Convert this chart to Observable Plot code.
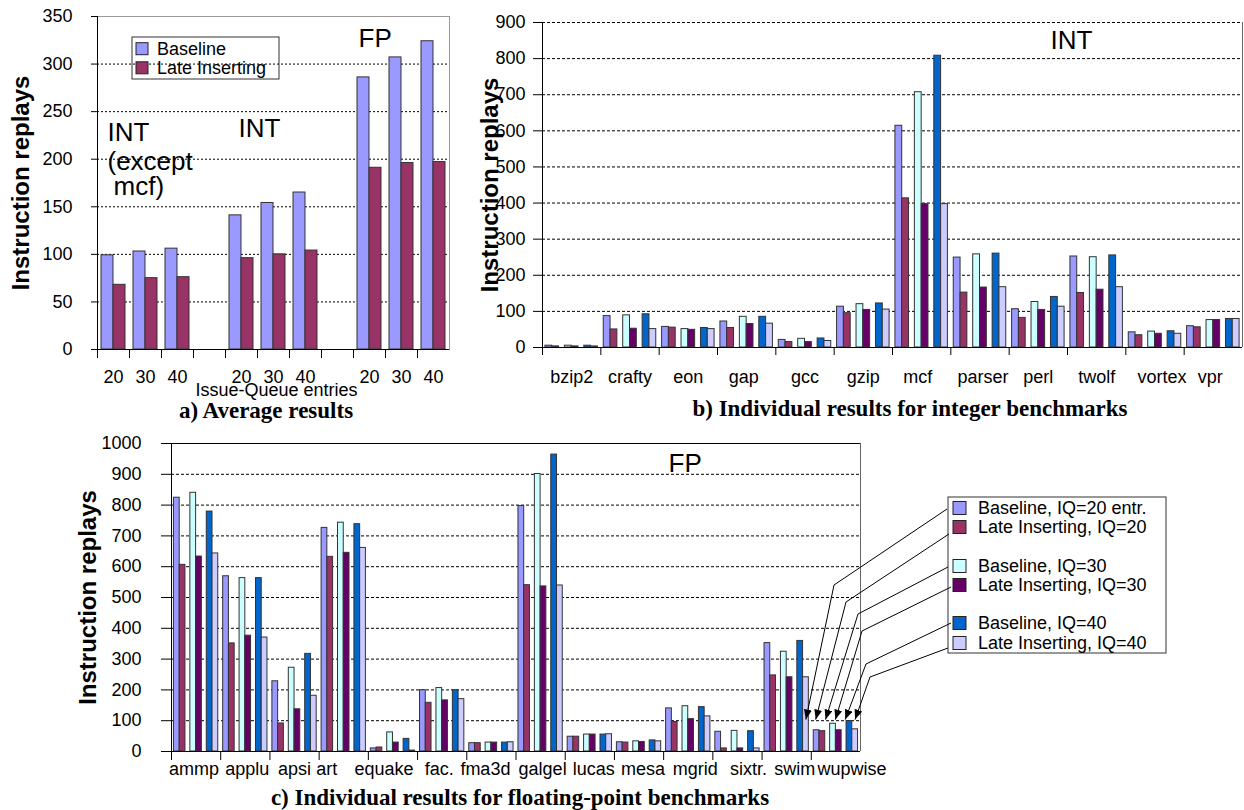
<!DOCTYPE html>
<html><head><meta charset="utf-8">
<script src="https://cdn.jsdelivr.net/npm/d3@7"></script>
<script src="https://cdn.jsdelivr.net/npm/@observablehq/plot@0.6"></script>
<style>
body{margin:0;background:#fff;}
#page{position:relative;width:1244px;height:810px;overflow:hidden;background:#fff;font-family:"Liberation Sans",Arial,sans-serif;}
.panel{position:absolute;}
.panel svg{overflow:visible;}
.cap{position:absolute;font-family:"Liberation Serif","Times New Roman",serif;font-weight:bold;font-size:23px;white-space:nowrap;transform:translate(-50%,-50%);line-height:1;}
</style></head>
<body><div id="page">
<div class="panel" id="pa" style="left:0;top:0"></div>
<div class="panel" id="pb" style="left:480px;top:0"></div>
<div class="panel" id="pc" style="left:0;top:425px"></div>
<div class="cap" style="left:266px;top:410px">a) Average results</div>
<div class="cap" style="left:910px;top:408px">b) Individual results for integer benchmarks</div>
<div class="cap" style="left:520px;top:797px">c) Individual results for floating-point benchmarks</div>
</div>
<script>
// ---------- data ----------
const seriesNames = ["Baseline, IQ=20 entr.","Late Inserting, IQ=20","Baseline, IQ=30","Late Inserting, IQ=30","Baseline, IQ=40","Late Inserting, IQ=40"];
const seriesColors = ["#9999FF","#993366","#CCFFFF","#660066","#0066CC","#CCCCFF"];

const avgSeries = ["Baseline","Late Inserting"];
const avgGroups = ["INT (except mcf)","INT","FP"];
const avgEntries = ["20","30","40"];
const avgBaseline = [99,103,106, 141,154,165, 286,307,324];
const avgLate = [68,75,76, 96,100,104, 191,196,197];
const yTicksA = [0,50,100,150,200,250,300,350];

const intBench = ["bzip2","crafty","eon","gap","gcc","gzip","mcf","parser","perl","twolf","vortex","vpr"];
const intBase20 = [5,87,57,72,21,113,614,249,106,252,42,59];
const intLate20 = [3,50,55,54,15,95,413,152,82,151,34,56];
const intBase30 = [5,89,51,85,24,120,707,258,126,250,44,76];
const intLate30 = [3,52,49,65,15,104,397,166,104,160,38,76];
const intBase40 = [5,92,54,85,25,122,808,260,140,255,45,79];
const intLate40 = [3,51,51,66,18,105,397,167,113,167,38,79];
const yTicksB = [0,100,200,300,400,500,600,700,800,900];

const fpBench = ["ammp","applu","apsi","art","equake","fac.","fma3d","galgel","lucas","mesa","mgrid","sixtr.","swim","wupwise"];
const fpBase20 = [824,569,228,726,10,199,27,797,48,30,140,64,352,69];
const fpLate20 = [606,351,91,632,13,158,27,540,48,29,96,10,247,66];
const fpBase30 = [840,563,272,743,62,206,29,901,55,33,147,67,324,90];
const fpLate30 = [633,376,137,645,29,166,29,536,55,31,105,10,241,69];
const fpBase40 = [779,563,317,738,41,199,29,964,55,36,144,66,359,99];
const fpLate40 = [643,370,181,661,3,170,30,539,56,33,114,10,241,72];
const yTicksC = [0,100,200,300,400,500,600,700,800,900,1000];

// ---------- helpers ----------
const FONT = '"Liberation Sans", Arial, sans-serif';
const baseStyle = {fontFamily: FONT, fontSize: "18px", color: "#000", background: "transparent", overflow: "visible"};
const PAD = 0.05, BW = (1/3 - 2*PAD)/2;
const bx1 = d => d.i + Math.floor(d.s/2)/3 + PAD + (d.s%2)*BW;
const bx2 = d => bx1(d) + BW;
const intFmt = v => String(v);
function rowsFor(bench, arrays){
  const rows = [];
  bench.forEach((b,i) => arrays.forEach((arr,s) => rows.push({bench:b, i, s, series: seriesNames[s], value: arr[i]})));
  return rows;
}
function label(t, opts){ return Plot.text([t], {text: d => d, ...opts}); }
function drawLegend(svg, box, items){
  const g = d3.select(svg).append("g").attr("font-family", FONT).attr("font-size", box.fs).attr("text-anchor", "start");
  g.append("rect").attr("x", box.x).attr("y", box.y).attr("width", box.w).attr("height", box.h)
    .attr("fill", box.fill || "none").attr("stroke", "#333").attr("stroke-width", 1);
  items.forEach(it => {
    g.append("rect").attr("x", box.sx).attr("y", it.cy - box.ss/2).attr("width", box.ss).attr("height", box.ss)
      .attr("fill", it.color).attr("stroke", "#222").attr("stroke-width", 1);
    g.append("text").attr("x", box.tx).attr("y", it.cy).attr("dy", "0.36em").attr("text-anchor", "start")
      .attr("fill", "#000").text(it.label);
  });
}
// small horizontal nudges of category labels (typographic spacing as in the original)
function nudgeLabels(svg, nudge){
  d3.select(svg).selectAll('g[aria-label="x-axis tick label"] text').each(function(){
    const t = this.textContent;
    if (Object.prototype.hasOwnProperty.call(nudge, t)) d3.select(this).attr("x", nudge[t]);
  });
}

// ---------- panel a ----------
const nSlotsA = avgGroups.length*4 - 1;
const avgRows = [];
avgGroups.forEach((g,gi) => avgEntries.forEach((e,ei) => {
  const slot = gi*4 + ei;
  avgRows.push({slot, k:0, series: avgSeries[0], value: avgBaseline[gi*3+ei]});
  avgRows.push({slot, k:1, series: avgSeries[1], value: avgLate[gi*3+ei]});
}));
const ax1 = d => d.slot + 0.125 + d.k*0.375;
const plotA = Plot.plot({
  width: 470, height: 400, marginLeft: 97, marginRight: 21, marginTop: 16, marginBottom: 51,
  style: baseStyle,
  x: {domain: [0, nSlotsA]},
  y: {domain: [0, 350]},
  color: {domain: avgSeries, range: [seriesColors[0], seriesColors[1]]},
  marks: [
    Plot.ruleY(yTicksA.slice(1, -1), {stroke: "#000", strokeDasharray: "2,2", strokeWidth: 1}),
    Plot.rect(avgRows, {x1: ax1, x2: d => ax1(d) + 0.375, y1: d => 0, y2: "value", fill: "series", stroke: "#333", strokeWidth: 1}),
    Plot.frame({stroke: "#999"}),
    Plot.ruleX([0], {stroke: "#000"}),
    Plot.ruleY([0], {stroke: "#000"}),
    Plot.axisY({ticks: yTicksA, tickSize: 6, tickPadding: 19, fontSize: 18, label: null, tickFormat: intFmt}),
    Plot.axisX({ticks: d3.range(0, nSlotsA), tickSize: 9, tickFormat: () => "", label: null}),
    Plot.axisX({ticks: d3.range(nSlotsA).map(s => s + 0.5), tickSize: 0, tickPadding: 21, fontSize: 18, label: null,
      tickFormat: v => { const s = Math.floor(v); return s % 4 === 3 ? "" : avgEntries[s % 4]; }}),
    label("Instruction replays", {frameAnchor: "left", rotate: -90, dx: -76, textAnchor: "middle", lineAnchor: "middle", fontSize: 24, fontWeight: "bold"}),
    label("Issue-Queue entries", {frameAnchor: "bottom", dx: 3, dy: 41, textAnchor: "middle", lineAnchor: "middle", fontSize: 18}),
    label("INT", {frameAnchor: "top-left", dx: 10, dy: 116, textAnchor: "start", lineAnchor: "middle", fontSize: 26}),
    label("(except", {frameAnchor: "top-left", dx: 10, dy: 145, textAnchor: "start", lineAnchor: "middle", fontSize: 26}),
    label("mcf)", {frameAnchor: "top-left", dx: 16, dy: 170, textAnchor: "start", lineAnchor: "middle", fontSize: 26}),
    label("INT", {frameAnchor: "top-left", dx: 141, dy: 112, textAnchor: "start", lineAnchor: "middle", fontSize: 26}),
    label("FP", {frameAnchor: "top-left", dx: 261, dy: 22, textAnchor: "start", lineAnchor: "middle", fontSize: 26})
  ]
});
document.getElementById("pa").appendChild(plotA);
drawLegend(plotA, {x: 132, y: 37, w: 147, h: 42, sx: 136, ss: 12, tx: 157, fs: 18},
  avgSeries.map((s,k) => ({label: s, color: seriesColors[k], cy: [48.7, 67.8][k]})));

// ---------- panel b ----------
const intRows = rowsFor(intBench, [intBase20, intLate20, intBase30, intLate30, intBase40, intLate40]);
const plotB = Plot.plot({
  width: 764, height: 400, marginLeft: 62, marginRight: 2, marginTop: 22, marginBottom: 53,
  style: baseStyle,
  x: {domain: [0, intBench.length]},
  y: {domain: [0, 900]},
  color: {domain: seriesNames, range: seriesColors},
  marks: [
    Plot.ruleY(yTicksB.slice(1), {stroke: "#000", strokeDasharray: "3,2", strokeWidth: 1}),
    Plot.rect(intRows, {x1: bx1, x2: bx2, y1: d => 0, y2: "value", fill: "series", stroke: "#333", strokeWidth: 1}),
    Plot.ruleX([intBench.length], {stroke: "#666"}),
    Plot.ruleX([0], {stroke: "#000"}),
    Plot.ruleY([0], {stroke: "#000"}),
    Plot.axisY({ticks: yTicksB, tickSize: 9, tickPadding: 8, fontSize: 18, label: null, tickFormat: intFmt}),
    Plot.axisX({ticks: d3.range(0, intBench.length), tickSize: 8, tickFormat: () => "", label: null}),
    Plot.axisX({ticks: intBench.map((b,i) => i + 0.5), tickSize: 0, tickPadding: 23, fontSize: 18, label: null,
      tickFormat: v => intBench[Math.floor(v)]}),
    label("Instruction replays", {frameAnchor: "left", rotate: -90, dx: -52, textAnchor: "middle", lineAnchor: "middle", fontSize: 24, fontWeight: "bold"}),
    label("INT", {frameAnchor: "top-left", dx: 508, dy: 18, textAnchor: "start", lineAnchor: "middle", fontSize: 26})
  ]
});
document.getElementById("pb").appendChild(plotB);
nudgeLabels(plotB, {gap: -3, mcf: -4, parser: 3, vortex: 7, vpr: -3});

// ---------- panel c ----------
const fpRows = rowsFor(fpBench, [fpBase20, fpLate20, fpBase30, fpLate30, fpBase40, fpLate40]);
const TOPC = 425;
const plotC = Plot.plot({
  width: 1244, height: 360, marginLeft: 171, marginRight: 384, marginTop: 18, marginBottom: 34,
  style: baseStyle,
  x: {domain: [0, fpBench.length]},
  y: {domain: [0, 1000]},
  color: {domain: seriesNames, range: seriesColors},
  marks: [
    Plot.ruleY(yTicksC.slice(1, -1), {stroke: "#000", strokeDasharray: "3,2", strokeWidth: 1}),
    Plot.rect(fpRows, {x1: bx1, x2: bx2, y1: d => 0, y2: "value", fill: "series", stroke: "#333", strokeWidth: 1}),
    Plot.ruleX([fpBench.length], {stroke: "#666"}),
    Plot.ruleY([1000], {stroke: "#000"}),
    Plot.ruleX([0], {stroke: "#000"}),
    Plot.ruleY([0], {stroke: "#000"}),
    Plot.axisY({ticks: yTicksC, tickSize: 10, tickPadding: 20, fontSize: 18, label: null, tickFormat: intFmt}),
    Plot.axisX({ticks: d3.range(0, fpBench.length), tickSize: 9, tickFormat: () => "", label: null}),
    Plot.axisX({ticks: fpBench.map((b,i) => i + 0.5), tickSize: 0, tickPadding: 11, fontSize: 18, label: null,
      tickFormat: v => fpBench[Math.floor(v)]}),
    label("Instruction replays", {frameAnchor: "left", rotate: -90, dx: -83, textAnchor: "middle", lineAnchor: "middle", fontSize: 24, fontWeight: "bold"}),
    label("FP", {frameAnchor: "top-left", dx: 497, dy: 20, textAnchor: "start", lineAnchor: "middle", fontSize: 26})
  ]
});
document.getElementById("pc").appendChild(plotC);
nudgeLabels(plotC, {ammp: -2, applu: 2, art: -17, equake: -9, "fac.": -3, fma3d: -6, galgel: 2, lucas: 4, mesa: 4, mgrid: 7, "sixtr.": 11, swim: 8, wupwise: 16});

const legCy = [508, 527, 566, 585, 623, 643].map(v => v - TOPC);
drawLegend(plotC, {x: 948, y: 497 - TOPC, w: 218, h: 156, sx: 953, ss: 13, tx: 978, fs: 18, fill: "white"},
  seriesNames.map((s,k) => ({label: s, color: seriesColors[k], cy: legCy[k]})));

// leader arrows from legend to the wupwise bars
(function(){
  const svg = d3.select(plotC);
  const sx = plotC.scale("x"), sy = plotC.scale("y");
  const defs = svg.append("defs");
  defs.append("marker").attr("id", "ah").attr("markerUnits", "userSpaceOnUse")
    .attr("markerWidth", 10).attr("markerHeight", 8).attr("refX", 10).attr("refY", 4).attr("orient", "auto")
    .append("path").attr("d", "M0,0L10,4L0,8Z").attr("fill", "#000");
  const starts = [[947,509],[949,534],[948,567],[951,587],[951,623],[948,648]];
  const bends = [[834,585],[846,602],[858,614],[862,631],[866,664],[870,677]];
  const wi = fpBench.indexOf("wupwise");
  starts.forEach((st, k) => {
    const tip = [sx.apply(wi + (k - 0.5)*0.2), sy.apply(102)];
    const pts = [[st[0], st[1]-TOPC], [bends[k][0], bends[k][1]-TOPC], tip];
    svg.append("path").attr("d", d3.line()(pts)).attr("fill", "none").attr("stroke", "#000")
      .attr("stroke-width", 1).attr("marker-end", "url(#ah)");
  });
})();
</script>
</body></html>
